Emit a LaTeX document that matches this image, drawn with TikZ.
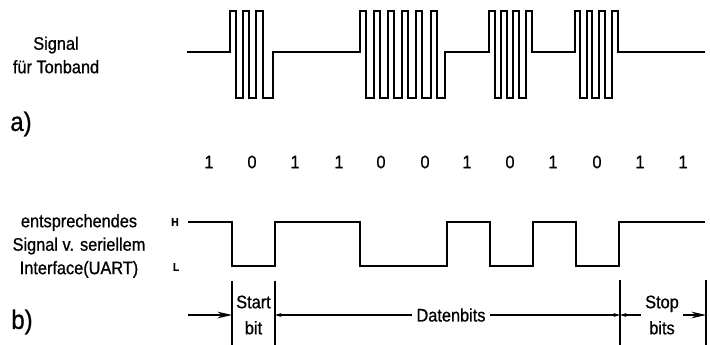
\documentclass[tikz,border=0pt]{standalone}
\usepackage{fontspec}
\setmainfont[FakeStretch=0.9,FakeBold=0.8]{Liberation Sans}
\usetikzlibrary{arrows.meta}
\begin{document}
\begin{tikzpicture}[x=0.75pt,y=-0.75pt,
  lbl/.style={font=\fontsize{13.6pt}{17.6pt}\selectfont, inner sep=1pt, align=center},
  biglbl/.style={font=\fontsize{20pt}{24pt}\selectfont, inner sep=0pt},
  hl/.style={font=\fontsize{8.5pt}{10pt}\selectfont\bfseries, inner sep=0pt},
  dimlbl/.style={font=\fontsize{13.6pt}{19.5pt}\selectfont, inner sep=3pt, align=center},
  tape/.style={line width=1.1pt, line join=miter},
  uart/.style={line width=1.5pt},
  dimline/.style={line width=0.8pt},
  bigtip/.style={-{Stealth[length=11pt,width=5pt]}},
  smalltip/.style={-{Stealth[length=5pt,width=3pt]}}
]
\useasboundingbox (0,0) rectangle (710,345);

% --- labels ---
\node[lbl] (tapetxt) at (56,55) {Signal\\für Tonband};
\node[biglbl] (alabel) at (21,124) {a)};
\node[lbl] (uarttxt) at (79,246) {entsprechendes\\Signal v. seriellem\\Interface(UART)};
\node[biglbl] (blabel) at (22,322) {b)};
\node[hl] (hlbl) at (175,222) {H};
\node[hl] (llbl) at (176,267) {L};

% --- bit digits ---
\foreach \x/\b [count=\i] in {209/1,252/0,295/1,339/1,381/0,425/0,467/1,510/0,553/1,597/0,640/1,683/1}
  \node[lbl] (bit\i) at (\x,162) {\b};

% --- tape signal (a) ---
\draw[tape] (187,52) -| (230,11) -| (236,98) -| (243,11) -| (249,98) -| (256,11) -| (263,98) -| (273,52)
  -| (360,11) -| (366,98) -| (374,11) -| (380,98) -| (388,11) -| (394,98) -| (402,11) -| (408,98)
  -| (416,11) -| (422,98) -| (431,11) -| (437,98) -| (445,52)
  -| (489,11) -| (495,98) -| (501,11) -| (507,98) -| (513,11) -| (519,98) -| (526,11) -| (532,52)
  -| (575,11) -| (580,98) -| (587,11) -| (592,98) -| (599,11) -| (605,98) -| (612,11) -| (618,52)
  -- (705,52);

% --- UART signal (b) ---
\draw[uart] (188,222) -| (232,266) -| (275,222) -| (360,266) -| (447,222) -| (490,266)
  -| (533,222) -| (576,266) -| (619,222) -- (705,222);

% --- dimension lines ---
\coordinate (v1t) at (232,281); \coordinate (v1b) at (232,345);
\coordinate (v2t) at (275,281); \coordinate (v2b) at (275,345);
\coordinate (v3t) at (620,280); \coordinate (v3b) at (620,345);
\coordinate (v4t) at (706,280); \coordinate (v4b) at (706,345);
\draw[dimline] (v1t) -- (v1b);
\draw[dimline] (v2t) -- (v2b);
\draw[dimline] (v3t) -- (v3b);
\draw[dimline] (v4t) -- (v4b);

\node[dimlbl] (start) at (253.5,315) {Start\\bit};
\node[dimlbl] (daten) at (451,315) {Datenbits};
\node[dimlbl] (stop) at (662,315) {Stop\\bits};

\coordinate (lfree) at (188,315);
\coordinate (a1) at (232,315);
\coordinate (a2) at (275,315);
\coordinate (a3) at (620,315);
\coordinate (a4) at (706,315);

\draw[dimline,bigtip] (lfree) -- (a1);
\draw[dimline,smalltip] (daten.west) -- (a2);
\draw[dimline,smalltip] (daten.east) -- (a3);
\draw[dimline,smalltip] (stop.west) -- (a3);
\draw[dimline,bigtip] (stop.east) -- (a4);
\end{tikzpicture}
\end{document}
